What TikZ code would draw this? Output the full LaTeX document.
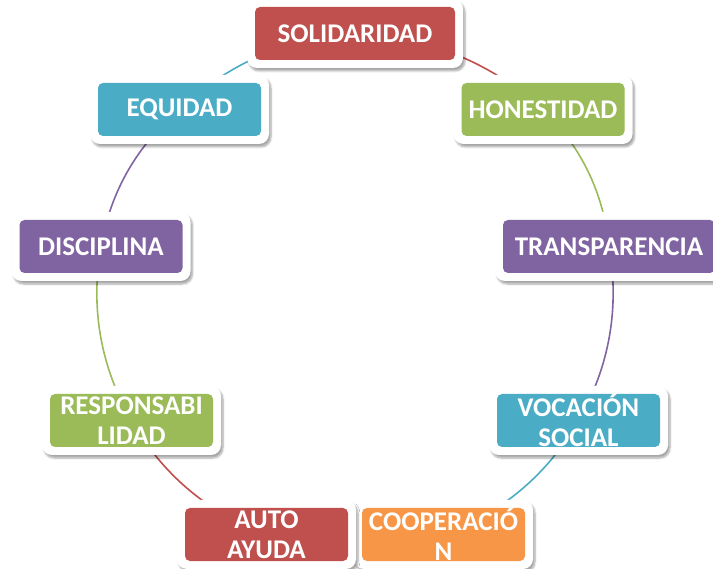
\documentclass[tikz,border=0pt]{standalone}
\usepackage{fontspec}
\setmainfont{Carlito}
\usetikzlibrary{shadows.blur,backgrounds}
\definecolor{cred}{HTML}{C0504D}
\definecolor{cgreen}{HTML}{9BBB59}
\definecolor{cpurple}{HTML}{8064A2}
\definecolor{cblue}{HTML}{4BACC6}
\definecolor{corange}{HTML}{F79646}
\tikzset{
  box/.style={rectangle, rounded corners=10pt, fill=white,
    minimum width=179pt, minimum height=69pt, inner xsep=4pt, inner ysep=0pt,
    align=center, text=white, font=\fontsize{27}{30}\selectfont\bfseries,
    blur shadow={shadow xshift=2pt, shadow yshift=-3pt, shadow blur steps=6, shadow opacity=35},
    path picture={\fill[#1, rounded corners=5pt]
      ([shift={(8pt,8pt)}]path picture bounding box.south west) rectangle
      ([shift={(-8pt,-8pt)}]path picture bounding box.north east);}},
  link/.style={draw=#1, line width=1.6pt, bend left=20, looseness=0.9}
}
\begin{document}
\begin{tikzpicture}[x=1pt, y=-1pt]
\useasboundingbox (0,0) rectangle (713,569);
\node[box=cred, minimum width=216pt] (sol) at (355,33.5) {SOLIDARIDAD};
\node[box=cgreen] (hon) at (543,109.5) {HONESTIDAD};
\node[box=cpurple, minimum width=228pt] (tra) at (609,246.5) {TRANSPARENCIA};
\node[box=cblue] (voc) at (578.5,420.5) {VOCACIÓN\\SOCIAL};
\node[box=corange] (coo) at (443.5,534.5) {COOPERACIÓ\\N};
\node[box=cred] (aut) at (266.5,534.5) {AUTO\\AYUDA};
\node[box=cgreen] (res) at (131.5,420.5) {RESPONSABI\\LIDAD};
\node[box=cpurple] (dis) at (101,246.5) {DISCIPLINA};
\node[box=cblue] (equ) at (179.5,109.5) {EQUIDAD};
\begin{pgfonlayer}{background}
\draw[link=cred] (sol.center) to (hon.center);
\draw[link=cgreen] (hon.center) to (tra.center);
\draw[link=cpurple] (tra.center) to (voc.center);
\draw[link=cblue] (voc.center) to (coo.center);
\draw[link=corange] (coo.center) to (aut.center);
\draw[link=cred] (aut.center) to (res.center);
\draw[link=cgreen] (res.center) to (dis.center);
\draw[link=cpurple] (dis.center) to (equ.center);
\draw[link=cblue] (equ.center) to (sol.center);
\end{pgfonlayer}
\end{tikzpicture}
\end{document}
